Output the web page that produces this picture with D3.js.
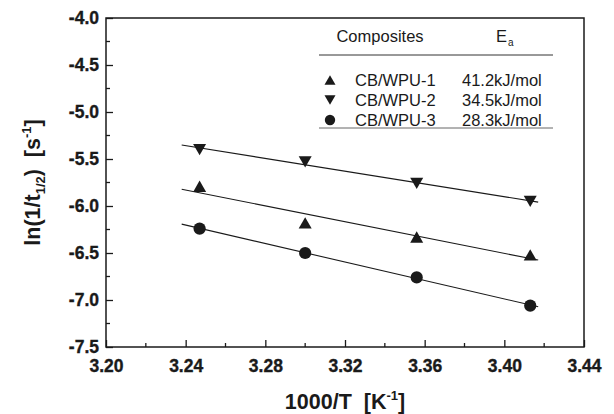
<!DOCTYPE html>
<html>
<head>
<meta charset="utf-8">
<script src="https://cdn.jsdelivr.net/npm/d3@7"></script>
<style>
  body { margin: 0; background: #fff; }
  svg { display: block; font-family: 'Liberation Sans', Arial, sans-serif; }
  .title { white-space: pre; }
</style>
</head>
<body>
<svg id="chart" width="614" height="414"></svg>
<script>
// values
const xVals = [3.247, 3.300, 3.356, 3.413]
const wpu1 = [-5.79, -6.18, -6.33, -6.52]
const wpu2 = [-5.40, -5.53, -5.76, -5.95]
const wpu3 = [-6.24, -6.50, -6.76, -7.06]
const names = ['CB/WPU-1', 'CB/WPU-2', 'CB/WPU-3']
const energies = ['41.2kJ/mol', '34.5kJ/mol', '28.3kJ/mol']
const fitRange = [3.238, 3.417]
const xTicks = [3.20, 3.24, 3.28, 3.32, 3.36, 3.40, 3.44]
const xMinor = [3.22, 3.26, 3.30, 3.34, 3.38, 3.42]
const yTicks = [-7.5, -7.0, -6.5, -6.0, -5.5, -5.0, -4.5, -4.0]
const yMinor = [-7.25, -6.75, -6.25, -5.75, -5.25, -4.75, -4.25]

const series = [
  {name: names[0], ea: energies[0], y: wpu1, shape: 'up'},
  {name: names[1], ea: energies[1], y: wpu2, shape: 'down'},
  {name: names[2], ea: energies[2], y: wpu3, shape: 'circle'}
]

const svg = d3.select('#chart')
const L = 106, R = 584, T = 18, B = 347
const ink = '#1a1a1a'
const font = "'Liberation Sans', Arial, sans-serif"

const x = d3.scaleLinear().domain([3.20, 3.44]).range([L, R])
const y = d3.scaleLinear().domain([-7.5, -4.0]).range([B, T])

function fit(xs, ys) {
  const mx = d3.mean(xs), my = d3.mean(ys)
  const b = d3.sum(xs, (v, i) => (v - mx) * (ys[i] - my)) / d3.sum(xs, v => (v - mx) * (v - mx))
  return v => my + b * (v - mx)
}

function marker(g, shape, cx, cy, s) {
  if (shape === 'circle') {
    g.append('circle').attr('cx', cx).attr('cy', cy).attr('r', s * 0.47).attr('fill', ink)
  } else {
    const h = s * 0.87, w = s / 2
    const pts = shape === 'up'
      ? [[cx - w, cy + h / 2], [cx + w, cy + h / 2], [cx, cy - h / 2]]
      : [[cx - w, cy - h / 2], [cx + w, cy - h / 2], [cx, cy + h / 2]]
    g.append('path').attr('d', 'M' + pts.join('L') + 'Z').attr('fill', ink)
  }
}

// fit lines
series.forEach(s => {
  const f = fit(xVals, s.y)
  svg.append('line')
    .attr('x1', x(fitRange[0])).attr('y1', y(f(fitRange[0])))
    .attr('x2', x(fitRange[1])).attr('y2', y(f(fitRange[1])))
    .attr('stroke', ink).attr('stroke-width', 1.1)
})

// points
const pts = svg.append('g')
series.forEach(s => {
  xVals.forEach((xv, i) => marker(pts, s.shape, x(xv), y(s.y[i]), 13))
})

// axes (hyphen instead of unicode minus, like the original)
const fmt = p => d => d3.format(p)(d).replace('\u2212', '-')
const xAxis = svg.append('g').attr('transform', `translate(0,${B})`)
  .call(d3.axisBottom(x).tickValues(xTicks).tickFormat(fmt('.2f')).tickSizeInner(-7).tickSizeOuter(0).tickPadding(13))
  .attr('font-size', 17.5).attr('font-weight', 'bold').attr('font-family', font)
xAxis.append('g').selectAll('line').data(xMinor).join('line')
  .attr('x1', d => x(d)).attr('x2', d => x(d)).attr('y1', 0).attr('y2', -4)
const yAxis = svg.append('g').attr('transform', `translate(${L},0)`)
  .call(d3.axisLeft(y).tickValues(yTicks).tickFormat(fmt('.1f')).tickSizeInner(-7).tickSizeOuter(0).tickPadding(7))
  .attr('font-size', 17.5).attr('font-weight', 'bold').attr('font-family', font)
yAxis.append('g').selectAll('line').data(yMinor).join('line')
  .attr('x1', 0).attr('x2', 4).attr('y1', d => y(d)).attr('y2', d => y(d))

svg.selectAll('.tick text').attr('fill', ink).attr('stroke', ink).attr('stroke-width', 0.35)
svg.selectAll('.tick line, g line').attr('stroke', ink).attr('stroke-width', 1.3)
svg.selectAll('.domain').remove()

// frame
svg.append('rect').attr('x', L).attr('y', T).attr('width', R - L).attr('height', B - T)
  .attr('fill', 'none').attr('stroke', ink).attr('stroke-width', 1.5)

// axis titles
svg.append('text').attr('class', 'title').attr('x', (L + R) / 2).attr('y', 409).attr('text-anchor', 'middle')
  .attr('font-size', 21.5).attr('font-weight', 'bold').attr('fill', ink)
  .call(t => {
    t.append('tspan').text('1000/T  [K')
    t.append('tspan').attr('font-size', 13).attr('dy', -9).text('-1')
    t.append('tspan').attr('dy', 9).text(']')
  })

svg.append('text').attr('class', 'title').attr('transform', `translate(40,${(T + B) / 2}) rotate(-90)`).attr('text-anchor', 'middle')
  .attr('font-size', 21.5).attr('font-weight', 'bold').attr('fill', ink)
  .call(t => {
    t.append('tspan').text('ln(1/t')
    t.append('tspan').attr('font-size', 13).attr('dy', 5).text('1/2')
    t.append('tspan').attr('dy', -5).text(')  [s')
    t.append('tspan').attr('font-size', 13).attr('dy', -9).text('-1')
    t.append('tspan').attr('dy', 9).text(']')
  })

// legend table
const lg = svg.append('g').attr('font-size', 16.5).attr('fill', ink)
lg.append('line').attr('x1', 319).attr('x2', 553).attr('y1', 55).attr('y2', 55).attr('stroke', '#333').attr('stroke-width', 1)
lg.append('line').attr('x1', 319).attr('x2', 553).attr('y1', 128).attr('y2', 128).attr('stroke', '#666').attr('stroke-width', 1)
lg.append('text').attr('x', 380).attr('y', 42).attr('text-anchor', 'middle').text('Composites')
lg.append('text').attr('x', 496).attr('y', 42)
  .call(t => {
    t.append('tspan').text('E')
    t.append('tspan').attr('font-size', 10).attr('dy', 4).attr('dx', 1).text('a')
  })
series.forEach((s, i) => {
  const ry = 80 + i * 20
  marker(lg, s.shape, 330, ry, 11)
  lg.append('text').attr('x', 355).attr('y', ry + 5.5).text(s.name)
  lg.append('text').attr('x', 462).attr('y', ry + 5.5).text(s.ea)
})
</script>
</body>
</html>
